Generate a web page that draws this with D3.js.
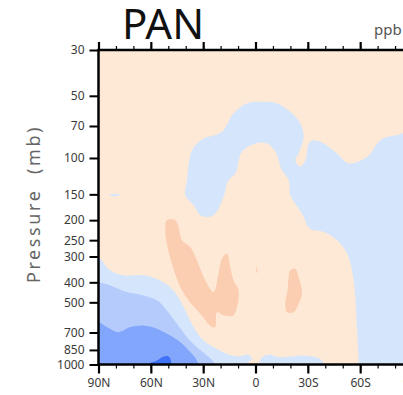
<!DOCTYPE html>
<html>
<head>
<meta charset="utf-8">
<script src="https://cdn.jsdelivr.net/npm/d3@7"></script>
<style>
  html, body { margin: 0; padding: 0; background: #fff; }
  svg { display: block; font-family: "Noto Sans", sans-serif; }
</style>
</head>
<body>
<div id="chart"></div>
<script>
// axis values
const latTicks = [90, 60, 30, 0, -30, -60, -90]
const latMinor = d3.range(90, -91, -10)
const pTicks = [30, 50, 70, 100, 150, 200, 250, 300, 400, 500, 700, 850, 1000]

// contour levels, low to high
const levels = ["blue4", "blue3", "blue2", "blue1", "peach", "salmon"]

// region outlines, [lat, pressure mb]
const archAndSouth = [
  [40.3, 151], [39.3, 129], [36.4, 91.7], [29.8, 80.4], [23.1, 77.5], [18.3, 73.3],
  [12.6, 60.8], [4.9, 54.4], [-4.6, 53.4], [-12.3, 54.4], [-20, 59.8], [-25.7, 68],
  [-27.6, 79], [-24.7, 95], [-22.8, 102.5], [-25.7, 110], [-28.6, 102.5], [-30.5, 85],
  [-33.3, 82], [-39.1, 85], [-46.7, 95], [-53.4, 106], [-63.9, 99], [-71.6, 82],
  [-81.2, 77.5], [-95, 75], [-95, 1150], [-59.5, 1150], [-59.1, 956], [-58.2, 684],
  [-56.3, 392], [-52.5, 290], [-46.7, 250], [-39.1, 228], [-31.4, 220], [-26.7, 186],
  [-20, 151], [-19, 128], [-15.2, 115], [-11.4, 93], [-6.6, 85], [0, 85], [7.7, 93],
  [11.6, 119], [15.4, 128], [18.3, 154], [23.1, 186], [26.9, 193], [31.7, 189], [35.5, 169]
]
const lowNorth1 = [
  [95, 290], [90, 302], [83.3, 350], [75.7, 370], [64.2, 370], [54.6, 392], [47, 438],
  [41.2, 527], [35.5, 659], [29.8, 765], [22.1, 839], [16.4, 887], [10.6, 914],
  [4, 896], [2, 938], [4.9, 990], [5.5, 1150], [95, 1150]
]
const lowTropic1 = [
  [-1.5, 1150], [-2.5, 960], [-3.7, 921], [-8.5, 894], [-12.3, 921], [-20, 914],
  [-27.6, 904], [-34.3, 921], [-38.1, 956], [-39.1, 990], [-39.8, 1150]
]
const dash1 = [[84, 151], [81, 149.5], [77.5, 151], [81, 153]]
const lowNorth2 = [
  [95, 390], [90, 399], [83.3, 414], [73.7, 446], [64.2, 463], [56.5, 489], [50.8, 547],
  [45, 635], [39.3, 737], [33.6, 824], [27.8, 904], [24, 975], [22.5, 1150], [95, 1150]
]
const lowNorth3 = [
  [95, 610], [90, 623], [85.2, 659], [78.5, 697], [71.8, 659], [64.2, 647], [56.5, 671],
  [48.9, 724], [43.1, 780], [37.4, 871], [33.6, 956], [31.8, 1150], [95, 1150]
]
const lowNorth4 = [
  [62, 1150], [61.3, 1000], [56.5, 956], [52.7, 914], [49.8, 914], [48.5, 956], [48.6, 1150]
]
const salmonWest = [
  [50.8, 200], [46, 200], [44.1, 216], [42.2, 250], [37.4, 270], [33.6, 313], [28.8, 392],
  [24, 446], [21.2, 363], [19.2, 307], [16.4, 290], [14.5, 337], [12.6, 392], [9.7, 438],
  [10.6, 527], [12.6, 578], [18.3, 578], [22.1, 558], [23.1, 659], [25, 659], [31.7, 568],
  [38.4, 489], [43.1, 422], [47.9, 325], [50.8, 260], [51.7, 220]
]
const salmonSouth = [
  [-20, 350], [-22.8, 343], [-24.7, 377], [-26.7, 454], [-24.7, 508], [-21.9, 558],
  [-18.1, 558], [-17.1, 508], [-18.4, 438], [-19, 377]
]
const salmonSpeck = [[-0.6, 335], [-1.1, 348], [-0.9, 362], [-0.4, 350]]

const regions = [
  ["blue1", archAndSouth], ["blue1", lowNorth1], ["blue1", lowTropic1], ["blue1", dash1],
  ["blue2", lowNorth2], ["blue3", lowNorth3], ["blue4", lowNorth4],
  ["salmon", salmonWest], ["salmon", salmonSouth], ["salmon", salmonSpeck]
]

const colors = {
  blue4: "#3f72f6", blue3: "#82a6fb", blue2: "#b4cbfc", blue1: "#d5e6fc",
  peach: "#fde9d6", salmon: "#fbcdb1"
}

const width = 403, height = 395
const plot = { left: 98.5, top: 50, right: 412.5, bottom: 364.5 }

const x = d3.scaleLinear().domain([90, -90]).range([plot.left, plot.right])
const y = d3.scaleLog().domain([30, 1000]).range([plot.top, plot.bottom])

const svg = d3.select("#chart").append("svg")
  .attr("width", width).attr("height", height)

svg.append("clipPath").attr("id", "clip")
  .append("rect")
  .attr("x", plot.left).attr("y", plot.top)
  .attr("width", plot.right - plot.left).attr("height", plot.bottom - plot.top)

const g = svg.append("g").attr("clip-path", "url(#clip)")

g.append("rect")
  .attr("x", plot.left).attr("y", plot.top)
  .attr("width", plot.right - plot.left).attr("height", plot.bottom - plot.top)
  .attr("fill", colors.peach)

const shape = d3.line()
  .x(d => x(d[0]))
  .y(d => y(d[1]))
  .curve(d3.curveCatmullRomClosed.alpha(0.5))

g.selectAll("path.region")
  .data(regions)
  .join("path")
  .attr("class", "region")
  .attr("d", d => shape(d[1]))
  .attr("fill", d => colors[d[0]])

// frame
svg.append("rect")
  .attr("x", plot.left).attr("y", plot.top)
  .attr("width", plot.right - plot.left).attr("height", plot.bottom - plot.top)
  .attr("fill", "none").attr("stroke", "#000").attr("stroke-width", 2.5)

const latFmt = d => d === 0 ? "0" : Math.abs(d) + (d > 0 ? "N" : "S")

function styleAxis(sel, w) {
  sel.select(".domain").remove()
  sel.selectAll(".tick line").attr("stroke", "#000").attr("stroke-width", w)
  sel.selectAll(".tick text")
    .attr("fill", "#3a3a3a").style("font-size", "12px")
    .style("font-family", "'Noto Sans', sans-serif")
}

// minor ticks
svg.append("g").attr("transform", `translate(0,${plot.top})`)
  .call(d3.axisTop(x).tickValues(latMinor).tickSize(4).tickFormat(""))
  .call(styleAxis, 1.2)
svg.append("g").attr("transform", `translate(0,${plot.bottom})`)
  .call(d3.axisBottom(x).tickValues(latMinor).tickSize(4).tickFormat(""))
  .call(styleAxis, 1.2)

// major ticks
svg.append("g").attr("transform", `translate(0,${plot.top})`)
  .call(d3.axisTop(x).tickValues(latTicks).tickSize(8).tickFormat(""))
  .call(styleAxis, 2.2)
svg.append("g").attr("transform", `translate(0,${plot.bottom})`)
  .call(d3.axisBottom(x).tickValues(latTicks).tickSize(9).tickPadding(5).tickFormat(latFmt))
  .call(styleAxis, 2.2)
svg.append("g").attr("transform", `translate(${plot.left},0)`)
  .call(d3.axisLeft(y).tickValues(pTicks).tickSize(9).tickPadding(5).tickFormat(d3.format("d")))
  .call(styleAxis, 2)

svg.append("text")
  .attr("transform", "translate(40,204) rotate(-90)")
  .attr("text-anchor", "middle")
  .attr("fill", "#666")
  .style("font-size", "18px")
  .style("letter-spacing", "2.6px")
  .style("white-space", "pre")
  .text("Pressure  (mb)")

svg.append("text")
  .attr("x", 122).attr("y", 39)
  .attr("fill", "#111")
  .style("font-size", "42px")
  .text("PAN")

svg.append("text")
  .attr("x", 374).attr("y", 35)
  .attr("fill", "#555")
  .style("font-size", "15px")
  .text("ppb")
</script>
</body>
</html>
